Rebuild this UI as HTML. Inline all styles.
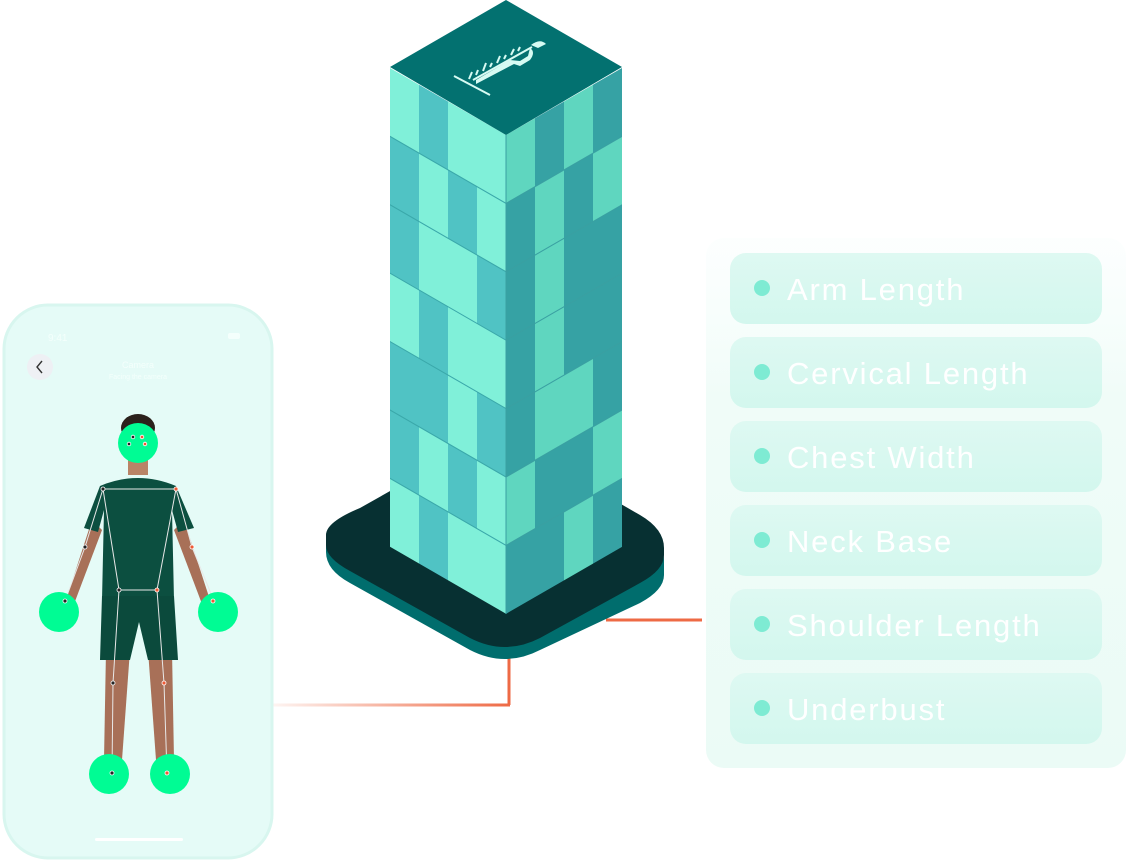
<!DOCTYPE html>
<html><head><meta charset="utf-8"><style>
html,body{margin:0;padding:0;background:#fff;width:1126px;height:862px;overflow:hidden;font-family:"Liberation Sans",sans-serif}
</style></head><body>
<svg width="1126" height="862" viewBox="0 0 1126 862" xmlns="http://www.w3.org/2000/svg">
<defs>
<linearGradient id="fade" gradientUnits="userSpaceOnUse" x1="255" y1="0" x2="510" y2="0"><stop offset="0" stop-color="#ee6a45" stop-opacity="0"/><stop offset="1" stop-color="#ee6a45"/></linearGradient>
<linearGradient id="panel" x1="0" y1="0" x2="0" y2="1"><stop offset="0" stop-color="#f6fefc" stop-opacity="0.3"/><stop offset="0.3" stop-color="#f0fcf8"/><stop offset="1" stop-color="#ebfbf6"/></linearGradient>
<linearGradient id="pill" x1="0" y1="0" x2="0" y2="1"><stop offset="0" stop-color="#def9f2"/><stop offset="1" stop-color="#d3f7ee"/></linearGradient>
</defs>

<!-- connectors -->
<path d="M606 620 H702" stroke="#ee6a45" stroke-width="3" fill="none"/>
<path d="M509 655 V705" stroke="#ee6a45" stroke-width="3" fill="none"/>
<rect x="255" y="703.5" width="255" height="3" fill="url(#fade)"/>

<!-- base -->
<path d="M360 520 L470 458 Q495 444 520 458 L640 527 Q664 541 664 560 L664 575 Q664 590 640 603 L540 650 Q505 668 470 650 L350 583 Q326 570 326 552 L326 545 Q326 532 360 520 Z" fill="#006d6d"/>
<path d="M360 508 L470 446 Q495 432 520 446 L640 515 Q664 529 664 548 L664 555 Q664 570 640 583 L540 638 Q505 656 470 638 L350 571 Q326 558 326 545 L326 535 Q326 522 360 508 Z" fill="#073032"/>

<!-- tower left face -->
<g transform="matrix(1,0.5776,0,1,0,0)">
<rect x="390" y="-157.3" width="29" height="68.4" fill="#80f0d9"/><rect x="419" y="-157.3" width="29" height="68.4" fill="#50c3c4"/><rect x="448" y="-157.3" width="58" height="68.4" fill="#80f0d9"/>
<rect x="390" y="-88.9" width="29" height="68.4" fill="#50c3c4"/><rect x="419" y="-88.9" width="29" height="68.4" fill="#80f0d9"/><rect x="448" y="-88.9" width="29" height="68.4" fill="#50c3c4"/><rect x="477" y="-88.9" width="29" height="68.4" fill="#80f0d9"/>
<rect x="390" y="-20.5" width="29" height="68.4" fill="#50c3c4"/><rect x="419" y="-20.5" width="58" height="68.4" fill="#80f0d9"/><rect x="477" y="-20.5" width="29" height="68.4" fill="#50c3c4"/>
<rect x="390" y="47.9" width="29" height="68.4" fill="#80f0d9"/><rect x="419" y="47.9" width="29" height="68.4" fill="#50c3c4"/><rect x="448" y="47.9" width="58" height="68.4" fill="#80f0d9"/>
<rect x="390" y="116.3" width="58" height="68.4" fill="#50c3c4"/><rect x="448" y="116.3" width="29" height="68.4" fill="#80f0d9"/><rect x="477" y="116.3" width="29" height="68.4" fill="#50c3c4"/>
<rect x="390" y="184.7" width="29" height="68.4" fill="#50c3c4"/><rect x="419" y="184.7" width="29" height="68.4" fill="#80f0d9"/><rect x="448" y="184.7" width="29" height="68.4" fill="#50c3c4"/><rect x="477" y="184.7" width="29" height="68.4" fill="#80f0d9"/>
<rect x="390" y="253.1" width="29" height="68.4" fill="#80f0d9"/><rect x="419" y="253.1" width="29" height="68.4" fill="#50c3c4"/><rect x="448" y="253.1" width="58" height="68.4" fill="#80f0d9"/>
<g stroke="#3aa8aa" stroke-width="1.2">
<line x1="390" y1="-88.9" x2="506" y2="-88.9"/><line x1="390" y1="-20.5" x2="506" y2="-20.5"/><line x1="390" y1="47.9" x2="506" y2="47.9"/><line x1="390" y1="116.3" x2="506" y2="116.3"/><line x1="390" y1="184.7" x2="506" y2="184.7"/><line x1="390" y1="253.1" x2="506" y2="253.1"/>
</g>
</g>

<!-- tower right face -->
<g transform="matrix(1,-0.5776,0,1,0,0)">
<rect x="506" y="427.3" width="29" height="68.4" fill="#5fd6bf"/><rect x="535" y="427.3" width="29" height="68.4" fill="#36a2a4"/><rect x="564" y="427.3" width="29" height="68.4" fill="#5fd6bf"/><rect x="593" y="427.3" width="29" height="68.4" fill="#36a2a4"/>
<rect x="506" y="495.7" width="29" height="68.4" fill="#36a2a4"/><rect x="535" y="495.7" width="29" height="68.4" fill="#5fd6bf"/><rect x="564" y="495.7" width="29" height="68.4" fill="#36a2a4"/><rect x="593" y="495.7" width="29" height="68.4" fill="#5fd6bf"/>
<rect x="506" y="564.1" width="29" height="68.4" fill="#36a2a4"/><rect x="535" y="564.1" width="29" height="68.4" fill="#5fd6bf"/><rect x="564" y="564.1" width="58" height="68.4" fill="#36a2a4"/>
<rect x="506" y="632.5" width="29" height="68.4" fill="#36a2a4"/><rect x="535" y="632.5" width="29" height="68.4" fill="#5fd6bf"/><rect x="564" y="632.5" width="58" height="68.4" fill="#36a2a4"/>
<rect x="506" y="700.9" width="29" height="68.4" fill="#36a2a4"/><rect x="535" y="700.9" width="58" height="68.4" fill="#5fd6bf"/><rect x="593" y="700.9" width="29" height="68.4" fill="#36a2a4"/>
<rect x="506" y="769.3" width="29" height="68.4" fill="#5fd6bf"/><rect x="535" y="769.3" width="58" height="68.4" fill="#36a2a4"/><rect x="593" y="769.3" width="29" height="68.4" fill="#5fd6bf"/>
<rect x="506" y="837.7" width="58" height="68.4" fill="#36a2a4"/><rect x="564" y="837.7" width="29" height="68.4" fill="#5fd6bf"/><rect x="593" y="837.7" width="29" height="68.4" fill="#36a2a4"/>
<g stroke="#3aa0a2" stroke-width="1.2">
<line x1="506" y1="495.7" x2="622" y2="495.7"/><line x1="506" y1="564.1" x2="622" y2="564.1"/><line x1="506" y1="632.5" x2="622" y2="632.5"/><line x1="506" y1="700.9" x2="622" y2="700.9"/><line x1="506" y1="769.3" x2="622" y2="769.3"/><line x1="506" y1="837.7" x2="622" y2="837.7"/>
</g>
</g>
<line x1="506" y1="135" x2="506" y2="614" stroke="#3aa0a2" stroke-width="1"/>

<!-- top -->
<polygon points="506,0 622,67 506,135 390,67" fill="#037170"/>
<g stroke="#d7fbf3" stroke-width="2" fill="none">
<line x1="454" y1="76" x2="490" y2="95"/>
<line x1="473" y1="80" x2="532" y2="47"/>
<line x1="469" y1="79" x2="472" y2="72"/><line x1="476" y1="75" x2="478" y2="70"/><line x1="483" y1="71" x2="486" y2="63"/><line x1="490" y1="67" x2="492" y2="63"/><line x1="497" y1="63" x2="500" y2="56"/><line x1="504" y1="59" x2="506" y2="55"/><line x1="511" y1="55" x2="514" y2="49"/><line x1="518" y1="51" x2="520" y2="47"/>
</g>
<path d="M476 84 L514 64 L520 66 L530 60 Q536 52 530 48 L528 56 L520 61 L510 60 L476 80 Z" fill="#d7fbf3"/>
<path d="M531 45 Q540 38 546 44 L538 48 Z" fill="#d7fbf3"/>

<!-- panel -->
<rect x="706" y="238" width="420" height="530" rx="18" fill="url(#panel)"/>
<g font-family="Liberation Sans, sans-serif" font-size="31" letter-spacing="1.8" fill="#ffffff">
<rect x="730" y="253" width="372" height="71" rx="16" fill="url(#pill)"/><circle cx="762" cy="288" r="8" fill="#7eebd3"/><text x="787" y="300">Arm Length</text>
<rect x="730" y="337" width="372" height="71" rx="16" fill="url(#pill)"/><circle cx="762" cy="372" r="8" fill="#7eebd3"/><text x="787" y="384">Cervical Length</text>
<rect x="730" y="421" width="372" height="71" rx="16" fill="url(#pill)"/><circle cx="762" cy="456" r="8" fill="#7eebd3"/><text x="787" y="468">Chest Width</text>
<rect x="730" y="505" width="372" height="71" rx="16" fill="url(#pill)"/><circle cx="762" cy="540" r="8" fill="#7eebd3"/><text x="787" y="552">Neck Base</text>
<rect x="730" y="589" width="372" height="71" rx="16" fill="url(#pill)"/><circle cx="762" cy="624" r="8" fill="#7eebd3"/><text x="787" y="636">Shoulder Length</text>
<rect x="730" y="673" width="372" height="71" rx="16" fill="url(#pill)"/><circle cx="762" cy="708" r="8" fill="#7eebd3"/><text x="787" y="720">Underbust</text>
</g>

<!-- phone -->
<rect x="4" y="305" width="268" height="553" rx="44" fill="#e5fbf7" stroke="#d8f6ef" stroke-width="3"/>
<text x="48" y="341" font-size="10" fill="#f4fffc" font-family="Liberation Sans, sans-serif">9:41</text>
<rect x="228" y="333" width="12" height="6" rx="2" fill="#f4fffc"/>
<circle cx="40" cy="367" r="13" fill="#eef0f4"/>
<path d="M42 361 L37 367 L42 373" stroke="#333" stroke-width="1.4" fill="none"/>
<text x="138" y="368" font-size="9" text-anchor="middle" fill="#f4fffc" font-family="Liberation Sans, sans-serif">Camera</text>
<text x="138" y="379" font-size="7" text-anchor="middle" fill="#f4fffc" font-family="Liberation Sans, sans-serif">Facing the camera</text>
<ellipse cx="138" cy="428" rx="17" ry="14" fill="#2b211c"/>
<rect x="128" y="455" width="20" height="20" fill="#b98467"/>
<path d="M92 520 L66 600 L74 604 L102 530 Z" fill="#a87058"/>
<path d="M184 520 L210 600 L202 604 L174 530 Z" fill="#a87058"/>
<path d="M106 650 L104 760 L122 760 L130 650 Z" fill="#a87058"/>
<path d="M148 650 L156 760 L174 760 L172 650 Z" fill="#a87058"/>
<path d="M100 486 Q138 470 176 486 L194 528 L178 532 L172 510 L174 600 L102 600 L104 510 L98 532 L84 528 Z" fill="#0c4f40"/>
<path d="M102 596 L174 596 L178 660 L148 660 L139 622 L130 660 L100 660 Z" fill="#0b4a3c"/>
<g stroke="#e8e8e8" stroke-width="1" fill="none">
<path d="M103 489 H176 L157 590 H119 Z"/>
<path d="M103 489 L85 547 L65 601"/><path d="M176 489 L192 547 L214 601"/>
<path d="M119 590 L113 683 L112 773"/><path d="M157 590 L164 683 L167 773"/>
</g>
<circle cx="138" cy="443" r="20" fill="#00fc94"/>
<circle cx="59" cy="612" r="20" fill="#00fc94"/>
<circle cx="218" cy="612" r="20" fill="#00fc94"/>
<circle cx="109" cy="774" r="20" fill="#00fc94"/>
<circle cx="170" cy="774" r="20" fill="#00fc94"/>
<g stroke="#fff" stroke-width="0.8">
<circle cx="133" cy="437" r="1.8" fill="#222"/><circle cx="142" cy="437" r="1.8" fill="#ee5a35"/><circle cx="129" cy="444" r="1.8" fill="#222"/><circle cx="145" cy="444" r="1.8" fill="#ee5a35"/>
<circle cx="103" cy="489" r="2" fill="#222"/><circle cx="176" cy="489" r="2" fill="#ee5a35"/>
<circle cx="85" cy="547" r="2" fill="#222"/><circle cx="192" cy="547" r="2" fill="#ee5a35"/>
<circle cx="119" cy="590" r="2" fill="#222"/><circle cx="157" cy="590" r="2" fill="#ee5a35"/>
<circle cx="113" cy="683" r="2" fill="#222"/><circle cx="164" cy="683" r="2" fill="#ee5a35"/>
<circle cx="65" cy="601" r="2" fill="#222"/><circle cx="213" cy="601" r="2" fill="#ee5a35"/>
<circle cx="112" cy="773" r="2" fill="#222"/><circle cx="167" cy="773" r="2" fill="#ee5a35"/>
</g>
<rect x="95" y="838" width="88" height="3" rx="1.5" fill="#ffffff"/>
</svg>
</body></html>
